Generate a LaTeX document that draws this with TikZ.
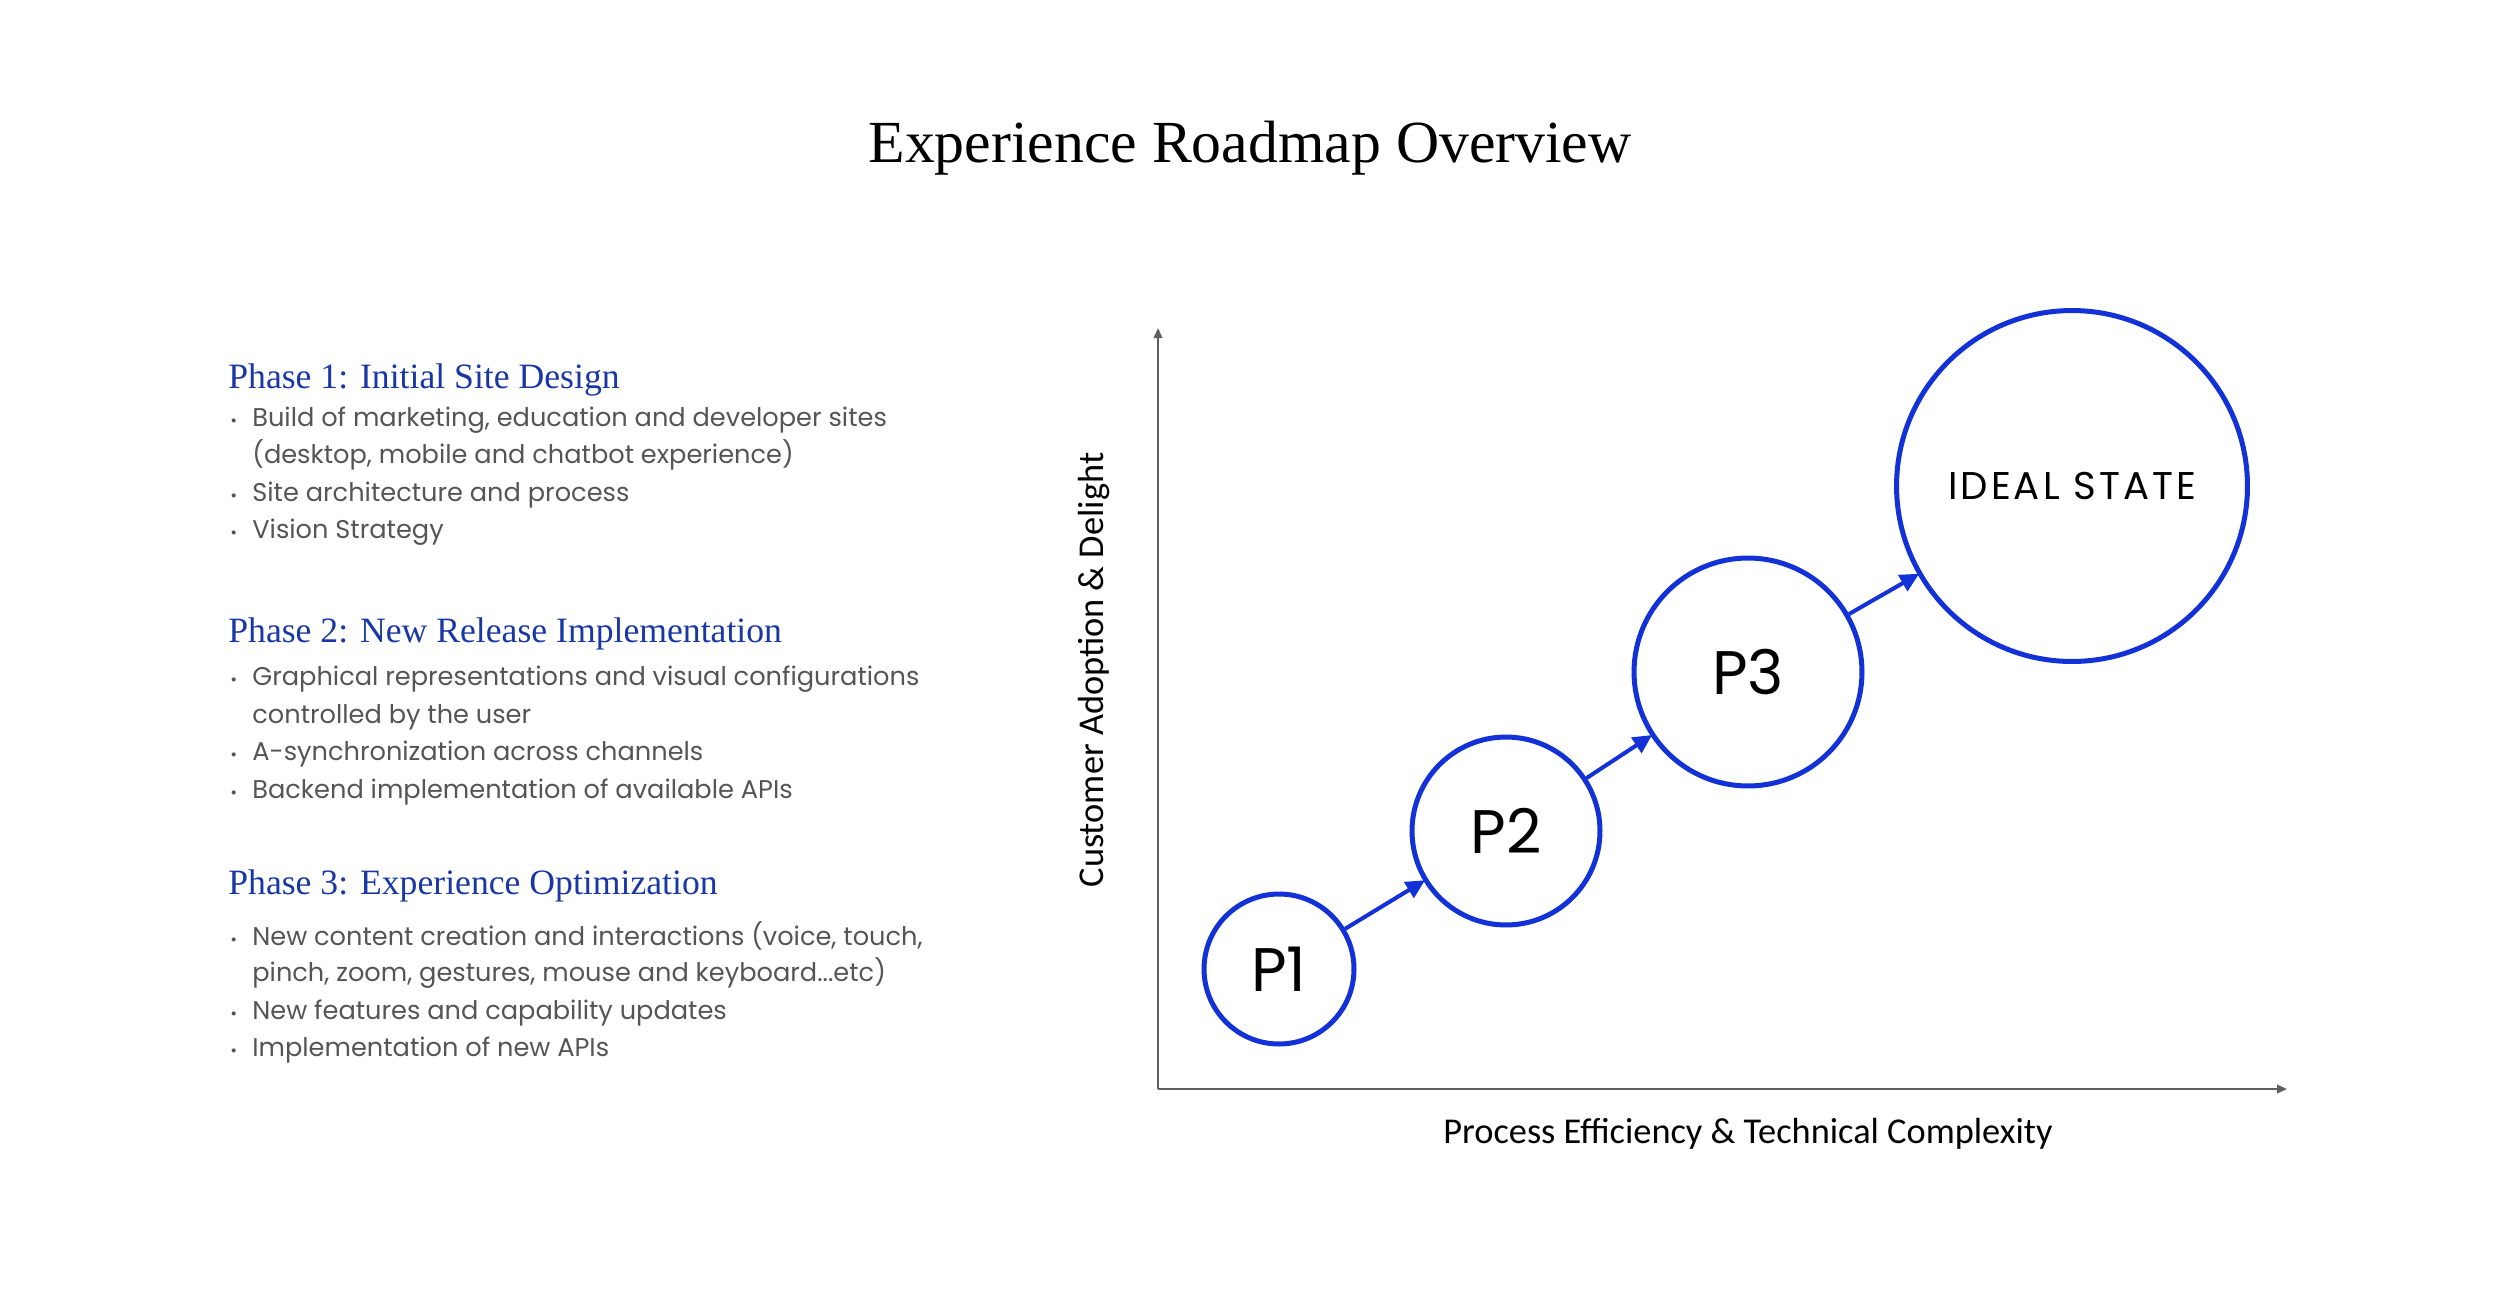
\documentclass[tikz,border=0pt]{standalone}
\usepackage{fontspec}
\setmainfont{Liberation Serif}
\newfontfamily\geofont{Poppins}
\newfontfamily\geofontsp[LetterSpace=8]{Poppins}
\newfontfamily\calfont{Carlito}
\usetikzlibrary{arrows.meta}
\definecolor{cblue}{RGB}{18,50,215}
\definecolor{hblue}{RGB}{25,55,165}
\definecolor{tgray}{RGB}{85,85,85}
\definecolor{agray}{RGB}{95,95,95}
\tikzset{
  title/.style={font=\fontsize{34}{40}\selectfont, text=black, inner sep=0pt},
  head/.style={anchor=mid west, font=\fontsize{20.3}{24}\selectfont, text=hblue, inner sep=0pt},
  item/.style={anchor=mid west, font=\geofont\fontsize{14.6}{18}\selectfont, text=tgray, inner sep=0pt},
  dot/.style={anchor=mid west, font=\geofont\fontsize{9.5}{10}\selectfont, text=tgray, inner sep=0pt},
  phase/.style={circle, draw=cblue, line width=2.85pt, inner sep=0pt, text=black, font=\geofont\fontsize{35}{40}\selectfont},
  flow/.style={draw=cblue, line width=2.3pt, -{Triangle[length=0.38cm,width=0.36cm]}, shorten >=-1pt},
  axis/.style={draw=agray, line width=1.1pt, -{Triangle[length=0.2cm,width=0.17cm]}},
  axlabel/.style={font=\calfont\fontsize{20.7}{24}\selectfont, text=black, inner sep=0pt}
}
\begin{document}
\begin{tikzpicture}[x=0.02cm,y=-0.02cm]
\useasboundingbox (0,0) rectangle (2500,1292);

\node[title] (title) at (1250,148) {Experience Roadmap Overview};

% Phase 1
\node[head] (h1) at (228,384) {Phase 1: Initial Site Design};
\node[dot] (d11) at (230,422) {•};
\node[item] (t11) at (252,422) {Build of marketing, education and developer sites};
\node[item] (t12) at (252,459) {(desktop, mobile and chatbot experience)};
\node[dot] (d12) at (230,497) {•};
\node[item] (t13) at (252,497) {Site architecture and process};
\node[dot] (d13) at (230,534) {•};
\node[item] (t14) at (252,534) {Vision Strategy};

% Phase 2
\node[head] (h2) at (228,638) {Phase 2: New Release Implementation};
\node[dot] (d21) at (230,681) {•};
\node[item] (t21) at (252,681) {Graphical representations and visual configurations};
\node[item] (t22) at (252,719) {controlled by the user};
\node[dot] (d22) at (230,756) {•};
\node[item] (t23) at (252,756) {A-synchronization across channels};
\node[dot] (d23) at (230,794) {•};
\node[item] (t24) at (252,794) {Backend implementation of available APIs};

% Phase 3
\node[head] (h3) at (228,890) {Phase 3: Experience Optimization};
\node[dot] (d31) at (230,941) {•};
\node[item] (t31) at (252,941) {New content creation and interactions (voice, touch,};
\node[item] (t32) at (252,977) {pinch, zoom, gestures, mouse and keyboard...etc)};
\node[dot] (d32) at (230,1015) {•};
\node[item] (t33) at (252,1015) {New features and capability updates};
\node[dot] (d33) at (230,1052) {•};
\node[item] (t34) at (252,1052) {Implementation of new APIs};

% Axes
\coordinate (o) at (1158,1089);
\coordinate (ytop) at (1158,328);
\coordinate (xend) at (2287,1089);
\draw[axis] (o) -- (ytop);
\draw[axis] (o) -- (xend);
\node[axlabel, rotate=90] (ylab) at (1094,670) {Customer Adoption \& Delight};
\node[axlabel] (xlab) at (1748,1134) {Process Efficiency \& Technical Complexity};

% Circles
\node[phase, minimum size=3.0cm] (p1) at (1279,969) {P1};
\node[phase, minimum size=3.76cm] (p2) at (1506,831) {P2};
\node[phase, minimum size=4.56cm] (p3) at (1748,672) {P3};
\node[phase, minimum size=7.02cm, font=\geofontsp\fontsize{22}{26}\selectfont] (ideal) at (2072,486) {IDEAL STATE};

\draw[flow] (p1) -- (p2);
\draw[flow] (p2) -- (p3);
\draw[flow] (p3) -- (ideal);
\end{tikzpicture}
\end{document}
